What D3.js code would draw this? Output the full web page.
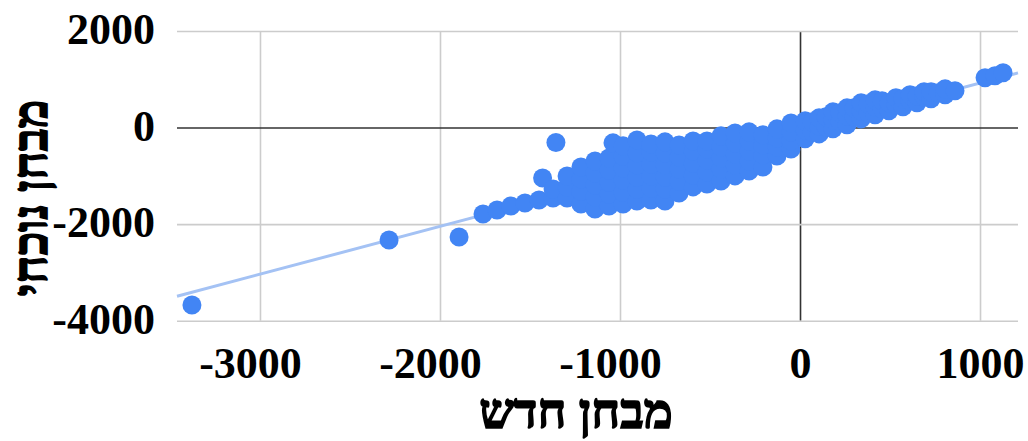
<!DOCTYPE html>
<html>
<head>
<meta charset="utf-8">
<script src="https://cdnjs.cloudflare.com/ajax/libs/d3/7.8.5/d3.min.js"></script>
<style>
	body { margin: 0; background: #fff; }
	.tick text { font-family: "Liberation Serif", "Times New Roman", serif; font-weight: bold; font-size: 44px; fill: #000; }
</style>
</head>
<body>
<div id="svganchor"></div>
<script>
// Data (new test vs current test)
var newTest = [
	-3378, -2283, -1894, -1356,
	-1761, -1683, -1606, -1528, -1450, -1430,
	-1372, -1372,
	-1294, -1294, -1294,
	-1217, -1217, -1217, -1217,
	-1139, -1139, -1139, -1139, -1139,
	-1061, -1061, -1061, -1061, -1061, -1039,
	-983, -983, -983, -983, -983, -983,
	-906, -906, -906, -906, -906, -906,
	-828, -828, -828, -828, -828, -828,
	-750, -750, -750, -750, -750, -750,
	-672, -672, -672, -672, -672,
	-594, -594, -594, -594, -594,
	-517, -517, -517, -517, -517,
	-439, -439, -439, -439, -439,
	-361, -361, -361, -361, -361,
	-283, -283, -283, -283, -283,
	-206, -206, -206, -206,
	-128, -128, -128, -128,
	-50, -50, -50, -50,
	28, 28, 28,
	67, 67,
	106, 106, 106,
	144, 144,
	183, 183, 183,
	222, 222,
	261, 261, 261,
	300, 300,
	339, 339, 339,
	378, 378,
	417, 417, 417,
	456, 456,
	494, 494,
	533, 533,
	572, 572,
	611, 611,
	650, 650,
	689, 689,
	728, 728,
	767,
	806, 806,
	861, 1028, 1083, 1128
];
var currentTest = [
	-3675, -2328, -2266, -311,
	-1789, -1706, -1623, -1561, -1499, -1043,
	-1458, -1271,
	-1458, -1229, -1001,
	-1582, -1312, -1063, -815,
	-1686, -1437, -1188, -939, -690,
	-1623, -1375, -1126, -877, -628, -317,
	-1582, -1333, -1084, -835, -587, -379,
	-1520, -1271, -1022, -773, -524, -255,
	-1499, -1250, -1001, -753, -504, -338,
	-1520, -1271, -1022, -773, -524, -296,
	-1354, -1105, -856, -607, -359,
	-1229, -981, -732, -483, -276,
	-1167, -918, -670, -442, -276,
	-1105, -856, -628, -400, -172,
	-1001, -773, -545, -317, -110,
	-898, -690, -483, -276, -89,
	-815, -566, -359, -151,
	-587, -400, -214, -27,
	-442, -276, -89, 97,
	-234, -48, 139,
	-89, 118,
	-131, 35, 201,
	15, 222,
	-27, 160, 325,
	118, 305,
	56, 243, 408,
	222, 408,
	180, 346, 512,
	305, 491,
	263, 429, 574,
	388, 553,
	346, 512,
	471, 616,
	429, 595,
	553, 678,
	512, 657,
	636, 740,
	595, 740,
	719,
	678, 802,
	761, 1030, 1072, 1134
];
var xTicks = [-3000, -2000, -1000, 0, 1000];
var yTicks = [-4000, -2000, 0, 2000];
var xTitle = "מבחן חדש";
var yTitle = "מבחן נוכחי";

var points = newTest.map(function(d, i) { return { x: d, y: currentTest[i] }; });

// Measurement
var w = 1028, h = 441;
var padding = [ 31, 10, 120.3, 177 ];  //Top, right, bottom, left

// Scaling
var xScale = d3.scaleLinear()
				.domain([ -3461, 1211 ])
				.range([ padding[3], w - padding[1] ]);
var yScale = d3.scaleLinear()
				.domain([ -4000, 2000 ])
				.range([ h - padding[2], padding[0] ]);

// Axis (plain hyphen for negatives, like the original)
var tickText = function(d) { return String(d); };

var xAxis = d3.axisBottom()
				.scale(xScale)
				.tickValues(xTicks)
				.tickFormat(tickText)
				.tickSizeInner(-(h - padding[2] - padding[0]))
				.tickSizeOuter(0);

var yAxis = d3.axisLeft()
				.scale(yScale)
				.tickValues(yTicks)
				.tickFormat(tickText)
				.tickSizeInner(-(w - padding[1] - padding[3]))
				.tickSizeOuter(0);

// SVG Container
var svg = d3.select("#svganchor")
				.append("svg")
				.attr("width", w)
				.attr("height", h);

var gx = svg.append("g")
	.attr("class", "x axis")
	.attr("transform", "translate(0," + (h - padding[2]) + ")")
	.call(xAxis);

var gy = svg.append("g")
	.attr("class", "y axis")
	.attr("transform", "translate(" + padding[3] + ",0)")
	.call(yAxis);

svg.selectAll(".domain").remove();

svg.selectAll(".tick line")
	.attr("stroke", function(d) { return d === 0 ? "#333" : "#ccc"; })
	.attr("stroke-width", 1.6);

// keep zero lines above the light grid
svg.selectAll(".tick").filter(function(d) { return d === 0; }).raise();

gx.selectAll("text")
	.attr("y", 0)
	.attr("dy", 57.3)
	.attr("dx", function(d) { return d < 0 ? -10 : 0; });

gy.selectAll("text")
	.attr("x", -22)
	.attr("dy", 12.5);

// Trend line (least squares fit of the points)
var mx = d3.mean(points, function(d) { return d.x; });
var my = d3.mean(points, function(d) { return d.y; });
var slope = d3.sum(points, function(d) { return (d.x - mx) * (d.y - my); }) /
	d3.sum(points, function(d) { return (d.x - mx) * (d.x - mx); });
var intercept = my - slope * mx;

svg.append("line")
	.attr("x1", xScale(xScale.domain()[0]))
	.attr("x2", xScale(xScale.domain()[1]))
	.attr("y1", yScale(slope * xScale.domain()[0] + intercept))
	.attr("y2", yScale(slope * xScale.domain()[1] + intercept))
	.attr("stroke", "#a4c2f4")
	.attr("stroke-width", 3);

// Points
svg.selectAll(".dot")
	.data(points)
	.enter()
	.append("circle")
	.attr("class", "dot")
	.attr("cx", function(d) { return xScale(d.x); })
	.attr("cy", function(d) { return yScale(d.y); })
	.attr("r", 9.5)
	.attr("fill", "#4285f4");

// Titles
svg.append("text")
	.attr("x", 576)
	.attr("y", 428)
	.attr("text-anchor", "middle")
	.attr("font-family", "Liberation Serif, serif")
	.attr("font-weight", "bold")
	.attr("font-size", 49)
	.attr("fill", "#000")
	.attr("stroke", "#000")
	.attr("stroke-width", 1.6)
	.text(xTitle);

svg.append("text")
	.attr("transform", "translate(47,198) rotate(-90)")
	.attr("text-anchor", "middle")
	.attr("font-family", "Liberation Serif, serif")
	.attr("font-weight", "bold")
	.attr("font-size", 48)
	.attr("fill", "#000")
	.attr("stroke", "#000")
	.attr("stroke-width", 1.6)
	.text(yTitle);
</script>
</body>
</html>
